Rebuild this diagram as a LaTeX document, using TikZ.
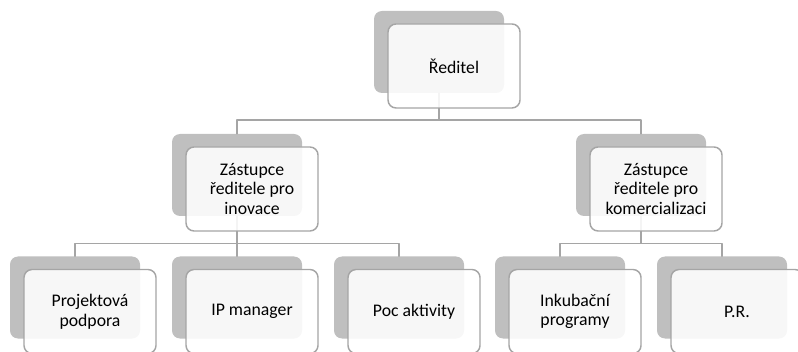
\documentclass[tikz,border=0pt]{standalone}
\usepackage{fontspec}
\setmainfont{Carlito}
\definecolor{boxgray}{HTML}{BFBFBF}
\definecolor{linegray}{HTML}{A5A5A5}

\begin{document}
\begin{tikzpicture}[line cap=round,line join=round,x=0.75pt,y=-0.75pt,
    back/.style={fill=boxgray,rounded corners=6pt,inner sep=0pt,
        minimum width=97.5pt,minimum height=61.5pt},
    front/.style={draw=linegray,line width=1.1pt,fill=white,fill opacity=0.88,
        text opacity=1,rounded corners=6pt,inner sep=0pt,align=center,
        minimum width=99pt,minimum height=63pt,
        font=\fontsize{13.3}{14.7}\selectfont},
    link/.style={draw=linegray,line width=1.1pt}]
    \useasboundingbox (0,0) rectangle (798,352);
    % bus lines
    \coordinate (bus0) at (0,120);
    \coordinate (bus1) at (0,243.5);
    % back boxes
    \node [back] (dirB) at (439,52) {};
    \node [back] (zasiB) at (237,175) {};
    \node [back] (zaskB) at (641,175) {};
    \node [back] (projB) at (75,297.5) {};
    \node [back] (ipB) at (237,297.5) {};
    \node [back] (pocB) at (399,297.5) {};
    \node [back] (inkB) at (560,297.5) {};
    \node [back] (prB) at (722,297.5) {};
    % connectors
    \draw [link] (dirB.south) -- (dirB.south |- bus0) -| (zasiB.north);
    \draw [link] (dirB.south |- bus0) -| (zaskB.north);
    \draw [link] (zasiB.south) -- (ipB.north);
    \draw [link] (zasiB.south |- bus1) -| (projB.north);
    \draw [link] (zasiB.south |- bus1) -| (pocB.north);
    \draw [link] (zaskB.south) -- (zaskB.south |- bus1) -| (inkB.north);
    \draw [link] (zaskB.south |- bus1) -| (prB.north);
    % front boxes
    \node [front] (dir) at (454,66) {Ředitel};
    \node [front] (zasi) at (252,189) {Zástupce\\ředitele pro\\inovace};
    \node [front] (zask) at (656,189) {Zástupce\\ředitele pro\\komercializaci};
    \node [front] (proj) at (90,311.5) {Projektová\\podpora};
    \node [front] (ip) at (252,311.5) {IP manager};
    \node [front] (poc) at (414,311.5) {Poc aktivity};
    \node [front] (ink) at (575,311.5) {Inkubační\\programy};
    \node [front] (pr) at (737,311.5) {P.R.};
\end{tikzpicture}
\end{document}
